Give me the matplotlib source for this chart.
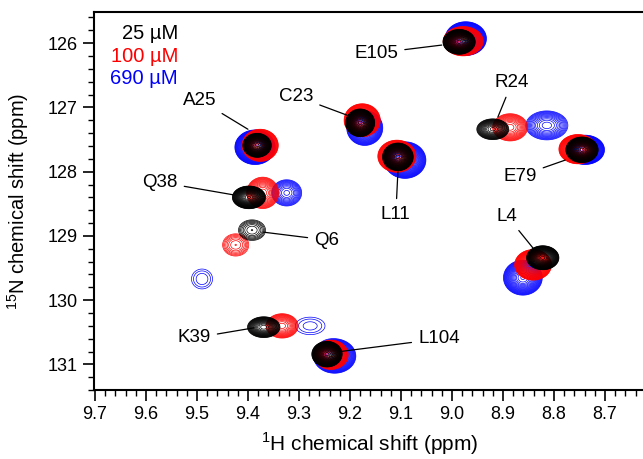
import numpy as np
import matplotlib.pyplot as plt

plt.rcParams['font.family'] = ['Liberation Sans', 'DejaVu Sans']
plt.rcParams['mathtext.fontset'] = 'custom'
plt.rcParams['mathtext.rm'] = 'Liberation Sans'

residues = ["A25", "Q38", "Q6", "K39", "L104", "C23", "L11", "E105", "R24", "E79", "L4"]

# peak positions (1H, 15N ppm) at each protein concentration
h_25 = [9.382, 9.398, 9.392, 9.369, 9.245, 9.180, 9.106, 8.986, 8.920, 8.745, 8.822]
n_25 = [127.59, 128.40, 128.91, 130.42, 130.84, 127.24, 127.77, 125.98, 127.34, 127.66, 129.34]
h_100 = [9.376, 9.371, 9.424, 9.333, 9.237, 9.176, 9.108, 8.978, 8.886, 8.753, 8.841]
n_100 = [127.59, 128.33, 129.14, 130.40, 130.85, 127.20, 127.76, 125.97, 127.31, 127.65, 129.45]
h_690 = [9.386, 9.324, 9.490, 9.278, 9.230, 9.171, 9.092, 8.973, 8.814, 8.739, 8.861]
n_690 = [127.62, 128.33, 129.67, 130.40, 130.87, 127.32, 127.82, 125.93, 127.28, 127.66, 129.65]

# peak heights (in units of the lowest contour level)
amp_25 = [150, 120, 3.6, 30, 150, 150, 150, 150, 20, 150, 150]
amp_100 = [150, 15, 3.6, 12, 150, 150, 150, 150, 12, 150, 150]
amp_690 = [150, 8, 1.7, 1.6, 60, 40, 80, 150, 10, 150, 40]

# gaussian widths (sigma, ppm) in 1H and 15N
sh_25 = [0.0088, 0.0105, 0.0165, 0.0122, 0.0094, 0.0090, 0.0095, 0.0100, 0.0128, 0.0100, 0.0100]
sn_25 = [0.059, 0.057, 0.100, 0.062, 0.063, 0.068, 0.068, 0.061, 0.066, 0.063, 0.059]
sh_100 = [0.0112, 0.0135, 0.0160, 0.0141, 0.0106, 0.0112, 0.0118, 0.0124, 0.0154, 0.0118, 0.0114]
sn_100 = [0.079, 0.105, 0.108, 0.085, 0.072, 0.081, 0.079, 0.072, 0.095, 0.072, 0.075]
sh_690 = [0.0125, 0.0144, 0.020, 0.030, 0.0145, 0.0130, 0.0138, 0.0128, 0.0192, 0.0120, 0.0140]
sn_690 = [0.085, 0.100, 0.150, 0.140, 0.093, 0.100, 0.096, 0.083, 0.105, 0.072, 0.100]

# label text position and the point its leader line touches
label_h = [9.494, 9.573, 9.245, 9.506, 9.025, 9.306, 9.110, 9.149, 8.882, 8.867, 8.892]
label_n = [126.886, 128.162, 129.064, 130.588, 130.603, 126.824, 128.659, 126.156, 126.607, 128.068, 128.690]
tip_h = [9.400, 9.429, 9.371, 9.388, 9.220, 9.206, 9.106, 9.020, 8.910, 8.778, 8.841]
tip_n = [127.34, 128.36, 128.94, 130.43, 130.80, 127.12, 128.00, 126.03, 127.15, 127.82, 129.19]

conc_labels = ["25 \u00b5M", "100 \u00b5M", "690 \u00b5M"]
conc_colors = ["black", "red", "blue"]


def spectrum(X, Y, hs, ns, amps, shs, sns):
    z = np.zeros_like(X)
    for h, n, a, sh, sn in zip(hs, ns, amps, shs, sns):
        z += a * np.exp(-((X - h) ** 2 / (2 * sh ** 2) + (Y - n) ** 2 / (2 * sn ** 2)))
    return z


hx = np.linspace(8.58, 9.74, 1300)
ny = np.linspace(125.4, 131.5, 1000)
X, Y = np.meshgrid(hx, ny)
levels = 1.2 ** np.arange(28)

fig = plt.figure(figsize=(6.43, 4.59), dpi=100)
ax = fig.add_axes([0.146, 0.150, 0.854, 0.8235])

# highest concentration drawn first so 25 uM sits on top
spectra = [
    (h_690, n_690, amp_690, sh_690, sn_690, "blue"),
    (h_100, n_100, amp_100, sh_100, sn_100, "red"),
    (h_25, n_25, amp_25, sh_25, sn_25, "black"),
]
for hs, ns, amps, shs, sns, col in spectra:
    z = spectrum(X, Y, hs, ns, amps, shs, sns)
    ax.contour(X, Y, z, levels=levels, colors=col, linewidths=0.5)

for name, lh, ln, th, tn in zip(residues, label_h, label_n, tip_h, tip_n):
    ax.annotate(name, xy=(th, tn), xytext=(lh, ln), fontsize=13.5,
                ha='center', va='center',
                arrowprops=dict(arrowstyle='-', color='black', lw=0.9,
                                shrinkA=3, shrinkB=0))

for i, (lab, col) in enumerate(zip(conc_labels, conc_colors)):
    ax.text(0.153, 0.944 - i * 0.06, lab, color=col, fontsize=14.5,
            ha='right', va='center', transform=ax.transAxes)

ax.set_xlim(9.702, 8.6255)
ax.set_ylim(131.38, 125.518)
ax.set_xticks(np.arange(8.7, 9.71, 0.1))
ax.set_xticklabels([f"{v:.1f}" for v in np.arange(8.7, 9.71, 0.1)])
ax.set_xticks(np.arange(8.64, 9.701, 0.02), minor=True)
ax.set_yticks(np.arange(126, 132, 1))
ax.set_yticks(np.arange(125.6, 131.41, 0.2), minor=True)
ax.tick_params(which='major', direction='out', length=8, width=1.2, labelsize=13)
ax.tick_params(which='minor', direction='out', length=4, width=1.0)
ax.spines['right'].set_visible(False)
for s in ['left', 'top', 'bottom']:
    ax.spines[s].set_linewidth(1.5)

ax.set_xlabel(r"$^{1}$H chemical shift (ppm)", fontsize=15)
ax.set_ylabel(r"$^{15}$N chemical shift (ppm)", fontsize=14.5)
ax.xaxis.set_label_coords(0.503, -0.106)
ax.yaxis.set_label_coords(-0.115, 0.5)

fig.savefig("out.png", dpi=100)
